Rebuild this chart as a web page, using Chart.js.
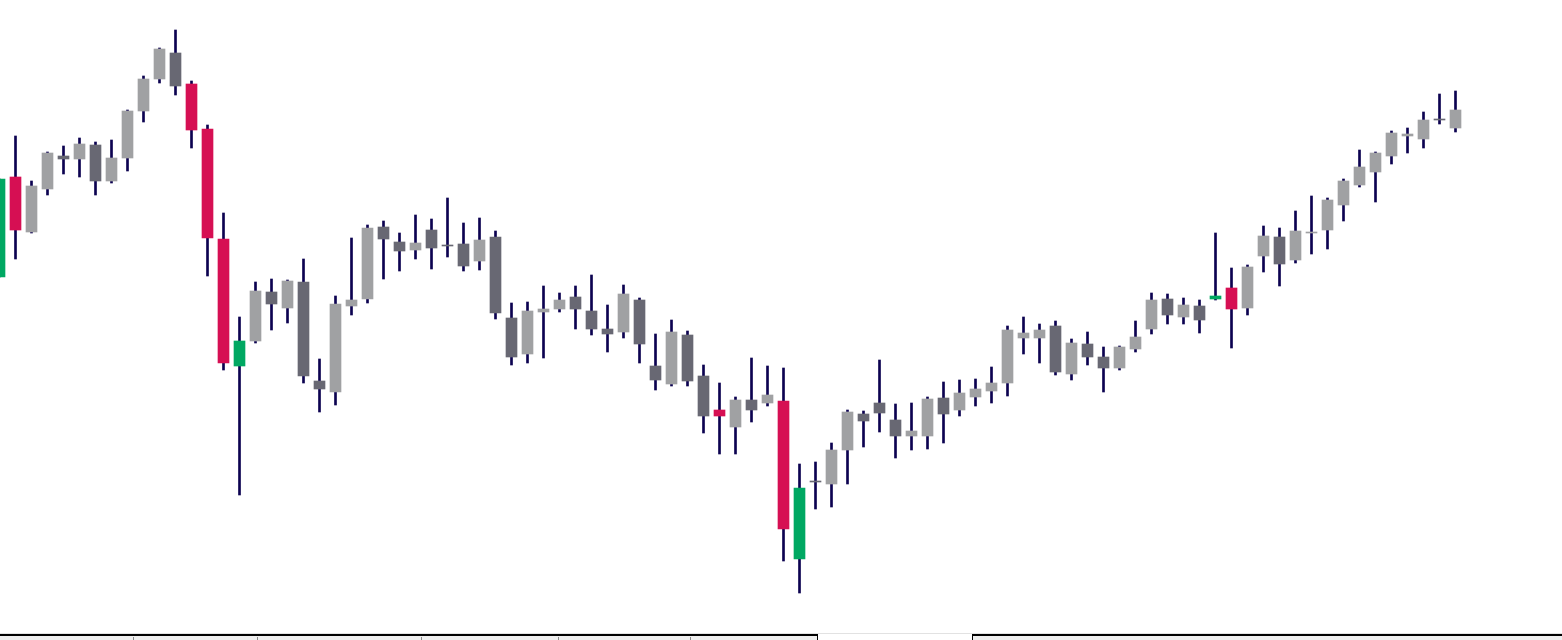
<!DOCTYPE html>
<html>
<head>
<meta charset="utf-8">
<script src="https://cdn.jsdelivr.net/npm/chart.js@4"></script>
<style>
  html, body { margin: 0; padding: 0; background: #fff; overflow: hidden; }
  #wrap { position: relative; width: 1562px; height: 640px; }
  #candles { position: absolute; left: 0; top: 0; }
  .strip-line { position: absolute; left: 0; top: 633px; width: 1562px; height: 1px; background: #e2e2e2; }
  .strip-box { position: absolute; top: 634px; height: 6px; background: #eeeeee; border-top: 2px solid #000; box-sizing: border-box; }
  .strip-tick { position: absolute; top: 637px; width: 1px; height: 3px; background: #8a8a8a; }
</style>
</head>
<body>
<div id="wrap">
  <canvas id="candles" width="1562" height="640"></canvas>
  <div class="strip-line"></div>
  <div class="strip-box" style="left:0;width:818px;border-right:1px solid #000;"></div>
  <div class="strip-box" style="left:972px;width:590px;border-left:1px solid #000;"></div>
  <div class="strip-tick" style="left:133px"></div>
  <div class="strip-tick" style="left:257px"></div>
  <div class="strip-tick" style="left:421px"></div>
  <div class="strip-tick" style="left:558px"></div>
  <div class="strip-tick" style="left:690px"></div>
</div>

<script>
// ─── DATA (bar index -1 is the half-hidden candle at the left edge) ───
const bars = [];
for (let i = -1; i <= 90; i++) bars.push(i);

const opens = [
  72.3, 82.3, 76.8, 81.1, 84.4, 84.1, 85.5, 81.9, 84.2, 88.9, 92.1, 94.7, 91.6, 87.1, 76.1, 63.4,
  65.9, 70.8, 69.2, 71.8, 61.9, 60.8, 69.4, 70.1, 77.3, 75.8, 75.0, 77.0, 75.5, 75.6, 73.9, 76.3,
  68.2, 64.6, 68.8, 69.1, 70.3, 68.9, 67.1, 66.8, 70.0, 63.4, 61.6, 66.5, 62.4, 59.0, 57.3, 60.0,
  59.7, 59.9, 44.1, 51.9, 51.6, 55.0, 58.6, 59.7, 58.0, 56.4, 56.4, 60.2, 59.0, 60.3, 60.9, 61.7,
  66.2, 66.2, 67.4, 62.6, 65.6, 64.3, 63.2, 65.1, 67.1, 70.1, 68.3, 69.4, 70.1, 71.2, 69.2, 74.4,
  76.3, 74.0, 76.7, 77.0, 79.5, 81.5, 82.8, 84.4, 86.4, 86.1, 88.1, 87.2
];
const highs = [
  82.1, 86.4, 81.9, 84.8, 85.4, 86.2, 85.8, 86.0, 89.0, 92.4, 95.2, 97.0, 91.9, 87.5, 78.7, 68.3,
  71.8, 72.1, 72.0, 74.1, 64.1, 70.4, 76.2, 77.5, 77.9, 76.7, 78.5, 78.1, 80.2, 77.7, 78.2, 76.9,
  69.7, 69.8, 71.4, 70.7, 71.4, 72.5, 69.5, 71.5, 70.2, 66.6, 68.0, 66.9, 63.5, 61.7, 60.3, 64.2,
  63.4, 63.2, 53.6, 53.8, 55.7, 59.0, 58.9, 64.0, 59.6, 59.7, 60.3, 61.8, 62.0, 62.1, 63.3, 67.4,
  68.3, 67.6, 67.9, 66.1, 66.8, 65.3, 65.4, 67.9, 70.7, 70.6, 70.2, 70.0, 76.7, 73.2, 73.5, 77.4,
  77.2, 78.9, 80.4, 80.2, 82.1, 85.0, 84.8, 86.9, 87.2, 88.8, 90.6, 90.9
];
const lows = [
  72.3, 74.1, 76.7, 80.5, 82.6, 82.3, 80.5, 81.7, 82.9, 87.8, 91.7, 90.5, 85.2, 72.4, 63.0, 50.5,
  65.7, 67.0, 67.7, 61.7, 58.8, 59.5, 68.5, 69.7, 72.1, 72.9, 74.1, 73.1, 74.3, 72.9, 73.0, 68.1,
  63.5, 63.7, 64.2, 68.8, 67.1, 66.5, 64.8, 66.2, 63.7, 61.0, 61.4, 61.4, 56.7, 54.6, 54.6, 57.8,
  59.4, 43.9, 40.7, 49.1, 49.3, 51.6, 55.3, 56.8, 54.2, 55.0, 55.1, 55.7, 58.4, 59.4, 59.7, 60.4,
  64.6, 63.7, 62.5, 62.0, 63.5, 60.8, 63.0, 64.8, 66.6, 67.6, 67.6, 66.7, 70.0, 65.2, 68.5, 72.8,
  71.4, 73.7, 74.6, 75.1, 77.9, 81.3, 79.8, 83.6, 84.7, 85.2, 87.6, 86.8
];
const closes = [
  82.1, 77.0, 81.4, 84.7, 84.1, 85.6, 81.9, 84.2, 88.9, 92.1, 95.1, 91.4, 87.0, 76.2, 63.7, 65.9,
  70.9, 69.6, 71.9, 62.4, 61.1, 69.6, 70.0, 77.2, 76.1, 74.9, 75.7, 75.2, 75.4, 73.4, 76.0, 68.7,
  64.3, 68.9, 69.1, 70.0, 69.1, 67.1, 66.6, 70.6, 65.6, 62.0, 66.8, 61.9, 58.4, 58.4, 60.0, 59.0,
  60.5, 47.1, 51.2, 51.8, 55.0, 58.8, 57.9, 58.7, 56.4, 56.9, 60.1, 58.6, 60.7, 61.1, 61.7, 67.0,
  66.7, 67.0, 62.8, 65.7, 64.3, 63.2, 65.3, 66.3, 70.0, 68.5, 69.5, 68.0, 70.4, 69.1, 73.3, 76.4,
  73.6, 76.9, 76.8, 80.0, 81.9, 83.3, 84.7, 86.7, 86.6, 88.0, 88.0, 89.0
];
// bars flagged by the signal indicator (painted green / crimson)
const signals = [-1, 0, 11, 12, 13, 14, 44, 48, 49, 75, 76];

// ─── COLOURS ─────────────────────────────────────────────────────
const UP_COL   = '#a0a1a3';
const DOWN_COL = '#686873';
const BUY_COL  = '#00a862';
const SELL_COL = '#d60f53';
const WICK_COL = '#0c0250';

function candleColor(i) {
  const up = closes[i] >= opens[i];
  if (signals.includes(bars[i])) return up ? BUY_COL : SELL_COL;
  return up ? UP_COL : DOWN_COL;
}

// ─── CHART ───────────────────────────────────────────────────────
const bodyData = bars.map((b, i) => ({ x: b, y: [opens[i], closes[i]] }));
const wickData = bars.map((b, i) => ({ x: b, y: [lows[i], highs[i]] }));

new Chart(document.getElementById('candles'), {
  type: 'bar',
  data: {
    datasets: [
      {
        label: 'body',
        data: bodyData,
        backgroundColor: bars.map((b, i) => candleColor(i)),
        borderWidth: 0,
        borderSkipped: false,
        barThickness: 11,
        grouped: false
      },
      {
        label: 'wick',
        data: wickData,
        backgroundColor: WICK_COL,
        borderWidth: 0,
        borderSkipped: false,
        barThickness: 2,
        grouped: false
      }
    ]
  },
  options: {
    responsive: false,
    animation: false,
    layout: { padding: 0 },
    plugins: { legend: { display: false }, tooltip: { enabled: false } },
    scales: {
      x: { type: 'linear', display: false, min: -0.96875, max: 96.65625, offset: false },
      y: { type: 'linear', display: false, min: 36, max: 100 }
    }
  }
});
</script>
</body>
</html>
